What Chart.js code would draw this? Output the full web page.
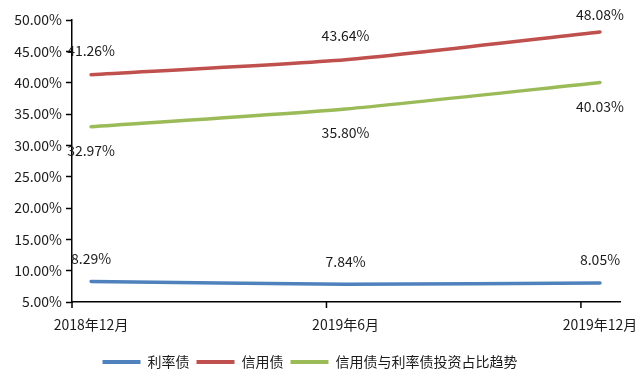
<!DOCTYPE html>
<html>
<head>
<meta charset="utf-8">
<script src="https://cdn.jsdelivr.net/npm/chart.js@4.4.1/dist/chart.umd.min.js"></script>
<style>
  html, body { margin: 0; padding: 0; background: #ffffff; }
  #wrap { width: 640px; height: 385px; position: relative; }
</style>
</head>
<body>
<div id="wrap"><canvas id="c" width="640" height="385"></canvas></div>
<script>
const categories = ['2018年12月', '2019年6月', '2019年12月'];
const seriesNames = ['利率债', '信用债', '信用债与利率债投资占比趋势'];
const rateBond = [8.29, 7.84, 8.05];
const creditBond = [41.26, 43.64, 48.08];
const shareTrend = [32.97, 35.80, 40.03];
const yTicks = [5, 10, 15, 20, 25, 30, 35, 40, 45, 50];

const FONT = "'Noto Sans CJK SC', 'Noto Sans', sans-serif";
const colors = ['#4f81bd', '#c0504d', '#9bbb59'];
const labelOffsets = [-23, -24, 24];
const TICK_SHIFT = 0.075;

const toPts = arr => arr.map((v, i) => ({ x: i, y: v }));

const dataLabels = {
  id: 'dataLabels',
  afterDatasetsDraw(chart) {
    const ctx = chart.ctx;
    ctx.save();
    ctx.font = '14px ' + FONT;
    ctx.fillStyle = '#1a1a1a';
    ctx.textAlign = 'center';
    ctx.textBaseline = 'middle';
    chart.data.datasets.forEach((ds, di) => {
      const meta = chart.getDatasetMeta(di);
      meta.data.forEach((pt, i) => {
        let y = pt.y + labelOffsets[di];
        if (y < 15) y = 15;
        ctx.fillText(ds.data[i].y.toFixed(2) + '%', pt.x, y);
      });
    });
    ctx.restore();
  }
};

const xTickMarks = {
  id: 'xTickMarks',
  afterDraw(chart) {
    const xs = chart.scales.x;
    const ctx = chart.ctx;
    ctx.save();
    ctx.strokeStyle = '#000';
    ctx.lineWidth = 1.5;
    categories.forEach((c, i) => {
      const px = xs.getPixelForValue(i - TICK_SHIFT);
      ctx.beginPath();
      ctx.moveTo(px, xs.top);
      ctx.lineTo(px, xs.top + 6);
      ctx.stroke();
    });
    ctx.restore();
  }
};

new Chart(document.getElementById('c'), {
  type: 'line',
  data: {
    datasets: [
      { label: seriesNames[0], data: toPts(rateBond), borderColor: colors[0], backgroundColor: colors[0] },
      { label: seriesNames[1], data: toPts(creditBond), borderColor: colors[1], backgroundColor: colors[1] },
      { label: seriesNames[2], data: toPts(shareTrend), borderColor: colors[2], backgroundColor: colors[2] }
    ]
  },
  options: {
    responsive: false,
    animation: false,
    layout: { padding: { top: 20, right: 20, left: 0, bottom: 6 } },
    elements: {
      line: { borderWidth: 3.5, tension: 0.2, borderCapStyle: 'round' },
      point: { radius: 0, hoverRadius: 0 }
    },
    scales: {
      x: {
        type: 'linear',
        min: -TICK_SHIFT,
        max: 2.0786,
        afterBuildTicks: s => { s.ticks = categories.map((c, i) => ({ value: i })); },
        afterFit: s => { s.height = 46; s.paddingLeft = 0; s.paddingRight = 0; },
        grid: { display: true, drawOnChartArea: false, drawTicks: false },
        border: { display: true, color: '#000', width: 1.5 },
        ticks: {
          padding: 14,
          color: '#1a1a1a',
          font: { family: FONT, size: 14 },
          maxRotation: 0,
          autoSkip: false,
          callback: v => categories[v]
        }
      },
      y: {
        min: yTicks[0],
        max: yTicks[yTicks.length - 1],
        afterBuildTicks: s => { s.ticks = yTicks.map(v => ({ value: v })); },
        afterFit: s => { s.width = 72; },
        grid: { display: true, drawOnChartArea: false, drawTicks: true, tickLength: 6, tickColor: '#000', tickWidth: 1.5 },
        border: { display: true, color: '#000', width: 1.5 },
        ticks: {
          padding: 4,
          color: '#1a1a1a',
          font: { family: FONT, size: 14 },
          callback: v => v.toFixed(2) + '%'
        }
      }
    },
    plugins: {
      tooltip: { enabled: false },
      legend: {
        position: 'bottom',
        labels: {
          boxWidth: 38,
          boxHeight: 4,
          padding: 7,
          color: '#1a1a1a',
          font: { family: FONT, size: 14 },
          generateLabels: chart => Chart.defaults.plugins.legend.labels.generateLabels(chart).map(l => Object.assign(l, { lineWidth: 0 }))
        }
      }
    }
  },
  plugins: [dataLabels, xTickMarks]
});
</script>
</body>
</html>
